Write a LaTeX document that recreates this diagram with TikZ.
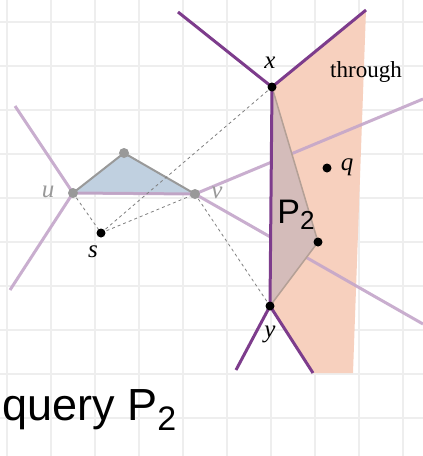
\documentclass[tikz,border=0pt]{standalone}
\usepackage{fontspec}
\setmainfont{Liberation Serif}
\newfontfamily\handfont{Liberation Sans}
\definecolor{gridc}{HTML}{EEEEEE}
\definecolor{lpurple}{HTML}{C4A6CA}
\definecolor{dpurple}{HTML}{7D3C8C}
\definecolor{peach}{HTML}{F7D0BE}
\definecolor{ptwofill}{HTML}{D4BCBA}
\definecolor{ptwoedge}{HTML}{B4A096}
\definecolor{trifill}{HTML}{C0D0E0}
\definecolor{grayc}{HTML}{999999}
\tikzset{
  gridline/.style={draw=gridc, line width=1.5pt},
  lightedge/.style={draw=lpurple, line width=3pt, opacity=0.9},
  darkedge/.style={draw=dpurple, line width=3pt},
  dashedge/.style={draw=gray, line width=0.8pt, dash pattern=on 3pt off 3pt},
  blackdot/.style={circle, fill=black, inner sep=0pt, minimum size=9pt},
  graydot/.style={circle, fill=grayc, inner sep=0pt, minimum size=10pt},
  lab/.style={font=\fontsize{25}{28}\selectfont\itshape},
  graylab/.style={lab, text=grayc},
  hand/.style={font=\handfont\fontsize{45}{50}\selectfont, anchor=base west, inner sep=0pt}
}
\begin{document}
\begin{tikzpicture}[x=1pt,y=-1pt]
\useasboundingbox (0,0) rectangle (423,456);
\fill[white] (0,0) rectangle (423,456);
\foreach \i in {7,51,...,403} \draw[gridline] (\i,0) -- (\i,456);
\foreach \j in {22,66,...,418} \draw[gridline] (0,\j) -- (423,\j);

\coordinate (u) at (73,193);
\coordinate (t) at (124,153);
\coordinate (v) at (195,194);
\coordinate (s) at (101,233);
\coordinate (x) at (272,87);
\coordinate (y) at (270,306);
\coordinate (q) at (327,168);
\coordinate (p) at (318,242);
\coordinate (ul) at (15,106);
\coordinate (dl) at (10,290);
\coordinate (vr1) at (423,99);
\coordinate (vr2) at (423,324);
\coordinate (xl) at (178,12);
\coordinate (xr) at (366,10);
\coordinate (yl) at (236,370);
\coordinate (yr) at (313,373);
\coordinate (br) at (353,373);

\fill[peach] (x) -- (xr) -- (br) -- (yr) -- (y) -- cycle;
\draw[lightedge] (ul) -- (u) -- (dl);
\draw[lightedge] (vr1) -- (v) -- (vr2);
\filldraw[fill=trifill, draw=grayc, line width=2pt, line join=round] (u) -- (t) -- (v) -- cycle;
\draw[lightedge] (u) -- (v);
\draw[dashedge] (u) -- (s);
\draw[dashedge] (s) -- (x);
\draw[dashedge] (s) -- (v);
\draw[dashedge] (v) -- (y);
\filldraw[fill=ptwofill, draw=ptwoedge, line width=1.5pt] (x) -- (p) -- (y) -- cycle;
\draw[darkedge] (xl) -- (x) -- (xr);
\draw[darkedge] (x) -- (y);
\draw[darkedge] (yl) -- (y) -- (yr);

\node[graydot] (nu) at (u) {};
\node[graydot] (nt) at (t) {};
\node[graydot] (nv) at (v) {};
\node[blackdot] (ns) at (s) {};
\node[blackdot] (nx) at (x) {};
\node[blackdot] (ny) at (y) {};
\node[blackdot] (nq) at (q) {};
\node[blackdot] (np) at (p) {};

\node[graylab] (lu) at (48,192) {u};
\node[graylab] (lv) at (217,193) {v};
\node[lab] (ls) at (93,252) {s};
\node[lab] (lx) at (270,63) {x};
\node[lab] (ly) at (270,334) {y};
\node[lab] (lq) at (347,167) {q};
\node[font=\fontsize{23}{26}\selectfont] (lthrough) at (366,72) {through};
\node[font=\handfont\fontsize{34}{36}\selectfont, inner sep=0pt] (lp2) at (296,215) {P\raisebox{-6pt}{\fontsize{26}{28}\selectfont 2}};
\node[hand] (lquery) at (2,420) {query P\raisebox{-10pt}{\fontsize{34}{40}\selectfont 2}};
\end{tikzpicture}
\end{document}
